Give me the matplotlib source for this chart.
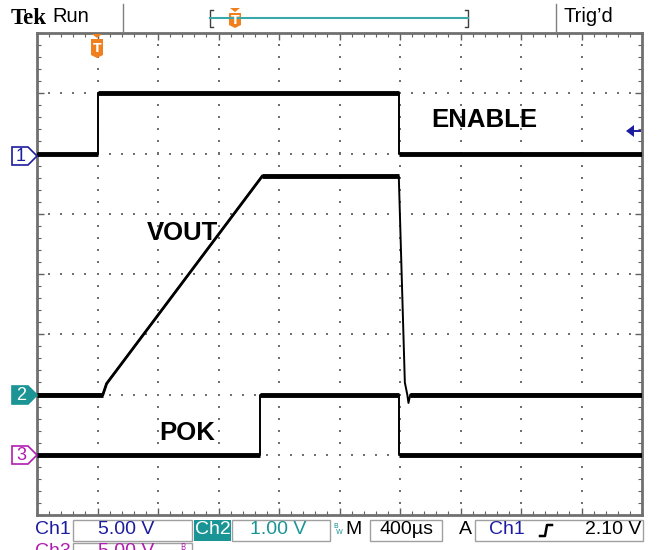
import matplotlib
matplotlib.use("Agg")
import matplotlib.pyplot as plt
import numpy as np
from matplotlib.patches import Polygon, Rectangle

# traces in graticule divisions (x: 0..10, y: 0..8)
enable_x = [0, 1.0, 1.0, 5.98, 5.98, 10]
enable_y = [6, 6, 7, 7, 6, 6]
vout_x = [0, 1.09, 1.15, 3.72, 5.98, 6.08, 6.12, 6.14, 6.17, 10]
vout_y = [2, 2, 2.18, 5.62, 5.62, 2.2, 2.0, 1.86, 2.0, 2.0]
pok_x = [0, 3.69, 3.69, 5.98, 5.98, 10]
pok_y = [1, 1, 2, 2, 1, 1]

trace_labels = ["ENABLE", "VOUT", "POK"]
label_pos = [(7.4, 6.55), (2.4, 4.68), (2.48, 1.36)]

ch_colors = {"1": "#1c1ca0", "2": "#1a9494", "3": "#b01cb0"}
orange = "#f0801e"

W, H = 657, 550
fig = plt.figure(figsize=(W / 100, H / 100), dpi=100)
fig.patch.set_facecolor("white")

# graticule area in pixels
gx0, gx1, gy0, gy1 = 37, 642, 33, 515
ax = fig.add_axes([gx0 / W, 1 - gy1 / H, (gx1 - gx0) / W, (gy1 - gy0) / H])
ax.set_xlim(0, 10)
ax.set_ylim(0, 8)
ax.set_xticks(range(0, 11))
ax.set_yticks(range(0, 9))
ax.set_xticks(np.arange(0, 10.01, 0.2), minor=True)
ax.set_yticks(np.arange(0, 8.01, 0.2), minor=True)
ax.tick_params(which="both", direction="in", top=True, right=True,
               labelbottom=False, labelleft=False, color="#606060")
ax.tick_params(which="major", length=5, width=1)
ax.tick_params(which="minor", length=3, width=0.8)
for s in ax.spines.values():
    s.set_color("#707070")
    s.set_linewidth(2)

# dotted grid
for i in range(1, 10):
    yy = np.arange(0.2, 8, 0.2)
    ax.scatter(np.full_like(yy, i), yy, s=2.5 if i == 5 else 1.5, marker="s",
               color="#707070", linewidths=0, zorder=1)
for j in range(1, 8):
    xx = np.arange(0.2, 10, 0.2)
    ax.scatter(xx, np.full_like(xx, j), s=2.5 if j == 4 else 1.5, marker="s",
               color="#707070", linewidths=0, zorder=1)


def draw_trace(xs, ys):
    ax.plot(xs, ys, color="black", lw=1.4, zorder=3)
    for k in range(len(xs) - 1):
        if ys[k] == ys[k + 1]:
            ax.plot(xs[k:k + 2], ys[k:k + 2], color="black", lw=3.5,
                    solid_capstyle="butt", zorder=3)


draw_trace(enable_x, enable_y)
draw_trace(vout_x, vout_y)
draw_trace(pok_x, pok_y)
ax.plot(vout_x[1:4], vout_y[1:4], color="black", lw=2.0, zorder=3)

for name, (lx, ly) in zip(trace_labels, label_pos):
    ax.text(lx, ly, name, ha="center", va="center", fontsize=18.5,
            fontweight="bold", family="Liberation Sans", color="black")

# overlay in pixel coordinates
ov = fig.add_axes([0, 0, 1, 1], facecolor="none")
ov.set_xlim(0, W)
ov.set_ylim(H, 0)
ov.axis("off")
ov.set_zorder(5)

# top status bar
ov.text(11, 18, "Tek", fontsize=16.5, fontweight="bold", family="Liberation Serif",
        va="center", ha="left")
ov.text(52, 16, "Run", fontsize=14.5, family="Liberation Sans", va="center", ha="left")
ov.plot([123, 123], [4, 31], color="#808080", lw=1)
ov.plot([556, 556], [4, 31], color="#808080", lw=1)
ov.text(563, 16, "Trig\u2019d", fontsize=14.5, family="Liberation Sans",
        va="center", ha="left")
ov.plot([213, 210, 210, 213], [10, 10, 27, 27], color="#404040", lw=1)
ov.plot([465, 468, 468, 465], [10, 10, 27, 27], color="#404040", lw=1)
ov.plot([210, 468], [18, 18], color="#3aa8a8", lw=1.5)


def trig_marker(x, ytop, h):
    tri = Polygon([[x - 5, ytop], [x + 5, ytop], [x, ytop + 4]], closed=True,
                  color=orange, lw=0)
    ov.add_patch(tri)
    body = Polygon([[x - 6, ytop + 5], [x + 6, ytop + 5], [x + 6, ytop + h - 3],
                    [x, ytop + h], [x - 6, ytop + h - 3]], closed=True,
                   color=orange, lw=0)
    ov.add_patch(body)
    ov.text(x, ytop + 5 + (h - 5) / 2, "T", color="white", fontsize=9,
            fontweight="bold", ha="center", va="center", family="DejaVu Sans")


trig_marker(235, 8, 20)
trig_marker(97, 34, 24)


# channel markers on the left
def ch_marker(label, y, filled):
    c = ch_colors[label]
    pts = [[12, y - 9], [28, y - 9], [37, y], [28, y + 9], [12, y + 9]]
    ov.add_patch(Polygon(pts, closed=True, facecolor=c if filled else "white",
                         edgecolor=c, lw=1.2))
    ov.text(21, y + 0.5, label, color="white" if filled else c, fontsize=13,
            ha="center", va="center", family="Liberation Sans")


ch_marker("1", 156, False)
ch_marker("2", 395, True)
ch_marker("3", 455, False)

# trigger level arrow on the right
ov.add_patch(Polygon([[626, 131], [634, 125], [634, 137]], closed=True,
                     color=ch_colors["1"], lw=0))
ov.plot([633, 640], [131, 131], color=ch_colors["1"], lw=1.4)

# bottom status bar
fs = 14
box_kw = dict(fill=False, edgecolor="#a0a0a0", lw=1)
ov.text(35, 530, "Ch1", color=ch_colors["1"], fontsize=fs,
        family="Liberation Sans", va="center", ha="left")
ov.add_patch(Rectangle((73, 520), 119, 21, **box_kw))
ov.text(126, 530, "5.00 V", color=ch_colors["1"], fontsize=fs,
        family="Liberation Sans", va="center", ha="center")
ov.add_patch(Rectangle((194, 520), 37, 21, color=ch_colors["2"], lw=0))
ov.text(212.5, 530, "Ch2", color="white", fontsize=fs,
        family="Liberation Sans", va="center", ha="center")
ov.add_patch(Rectangle((232, 520), 98, 21, **box_kw))
ov.text(278, 530, "1.00 V", color=ch_colors["2"], fontsize=fs,
        family="Liberation Sans", va="center", ha="center")
ov.text(333, 526, "B", color=ch_colors["2"], fontsize=5, va="center", ha="left")
ov.text(336, 532, "W", color=ch_colors["2"], fontsize=5, va="center", ha="left")
ov.text(345, 530, "M", color="black", fontsize=fs,
        family="Liberation Sans", va="center", ha="left")
ov.add_patch(Rectangle((370, 520), 72, 21, **box_kw))
ov.text(406, 530, "400\u00b5s", color="black", fontsize=fs,
        family="Liberation Sans", va="center", ha="center")
ov.text(459, 530, "A", color="black", fontsize=fs,
        family="Liberation Sans", va="center", ha="left")
ov.add_patch(Rectangle((475, 520), 168, 21, **box_kw))
ov.text(489, 530, "Ch1", color=ch_colors["1"], fontsize=fs,
        family="Liberation Sans", va="center", ha="left")
ov.plot([540, 545, 547, 552], [536, 536, 525, 525], color="black", lw=1.8)
ov.text(641, 530, "2.10 V", color="black", fontsize=fs,
        family="Liberation Sans", va="center", ha="right")
ov.text(35, 552, "Ch3", color=ch_colors["3"], fontsize=fs,
        family="Liberation Sans", va="center", ha="left")
ov.add_patch(Rectangle((73, 543), 119, 21, **box_kw))
ov.text(126, 552, "5.00 V", color=ch_colors["3"], fontsize=fs,
        family="Liberation Sans", va="center", ha="center")
ov.text(180, 547, "B", color=ch_colors["3"], fontsize=5.5, va="center", ha="left")

fig.savefig("out.png", dpi=100)
